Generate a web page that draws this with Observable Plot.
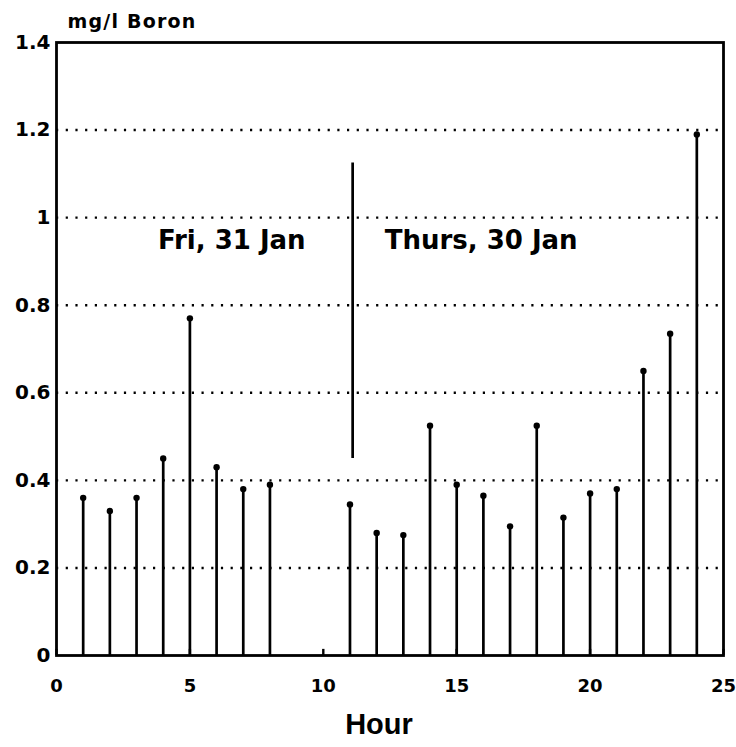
<!DOCTYPE html>
<html>
<head>
<meta charset="utf-8">
<script src="https://cdn.jsdelivr.net/npm/d3@7"></script>
<script src="https://cdn.jsdelivr.net/npm/@observablehq/plot@0.6"></script>
<style>
  html, body { margin: 0; padding: 0; background: #fff; }
  #chart svg { display: block; }
</style>
</head>
<body>
<div id="chart"></div>
<script>
// --- data ---
const hoursFri = [1, 2, 3, 4, 5, 6, 7, 8];
const boronFri = [0.36, 0.33, 0.36, 0.45, 0.77, 0.43, 0.38, 0.39];
const hoursThu = [11, 12, 13, 14, 15, 16, 17, 18, 19, 20, 21, 22, 23, 24];
const boronThu = [0.345, 0.28, 0.275, 0.525, 0.39, 0.365, 0.295, 0.525, 0.315, 0.37, 0.38, 0.65, 0.735, 1.19];
const separatorHour = [11.1];
const separatorFrom = [0.45];
const separatorTo = [1.125];
const dayLabels = ["Fri, 31 Jan", "Thurs, 30 Jan"];
const dayLabelHour = [3.8, 12.3];
const dayLabelValue = [0.948, 0.948];
const xTicks = [0, 5, 10, 15, 20, 25];
const yTicks = [0, 0.2, 0.4, 0.6, 0.8, 1, 1.2, 1.4];
const gridY = [0.2, 0.4, 0.6, 0.8, 1, 1.2];
const yTitle = "mg/l Boron";
const xTitle = "Hour";

const samples = [
  ...hoursFri.map((h, i) => ({hour: h, boron: boronFri[i]})),
  ...hoursThu.map((h, i) => ({hour: h, boron: boronThu[i]}))
];
const separator = separatorHour.map((h, i) => ({hour: h, y1: separatorFrom[i], y2: separatorTo[i]}));
const labels = dayLabels.map((t, i) => ({text: t, hour: dayLabelHour[i], value: dayLabelValue[i]}));

const font = "'DejaVu Sans', sans-serif";

const chart = Plot.plot({
  width: 736,
  height: 747,
  marginLeft: 56,
  marginRight: 13,
  marginTop: 42,
  marginBottom: 92,
  style: {fontFamily: font, fontWeight: "bold", background: "#fff", color: "#000"},
  x: {domain: [0, 25]},
  y: {domain: [0, 1.4]},
  marks: [
    Plot.ruleY(gridY, {stroke: "#000", strokeWidth: 2.4, strokeDasharray: "2.2,7.5"}),
    Plot.ruleX(xTicks, {x: d => d, y1: 0, y2: 0.014, stroke: "#000", strokeWidth: 2.4}),
    Plot.ruleX(samples, {x: "hour", y1: 0, y2: "boron", stroke: "#000", strokeWidth: 2.7}),
    Plot.dot(samples, {x: "hour", y: "boron", r: 3.2, fill: "#000", stroke: "none"}),
    Plot.ruleX(separator, {x: "hour", y1: "y1", y2: "y2", stroke: "#000", strokeWidth: 2.7}),
    Plot.text(labels, {x: "hour", y: "value", text: "text", textAnchor: "start", fontSize: 26, fontWeight: "bold", fontFamily: font, fill: "#000"}),
    Plot.frame({stroke: "#000", strokeWidth: 2.8}),
    Plot.axisY(yTicks, {tickSize: 0, tickPadding: 6, fontSize: 20, fontWeight: "bold", fontFamily: font, label: null, tickFormat: d => String(+d.toFixed(1))}),
    Plot.axisX(xTicks, {tickSize: 0, tickPadding: 24, fontSize: 18, fontWeight: "bold", fontFamily: font, label: null, tickFormat: d => String(d)}),
    Plot.text([yTitle], {frameAnchor: "top-left", text: d => d, dx: 11, dy: -21, textAnchor: "start", lineAnchor: "middle", fontSize: 19, fontWeight: "bold", fontFamily: font, fill: "#000"}),
    Plot.text([xTitle], {frameAnchor: "bottom", text: d => d, dx: -11, dy: 69, lineAnchor: "middle", fontSize: 29, fontWeight: "bold", fontFamily: "'Liberation Sans', Arial, sans-serif", fill: "#000"})
  ]
});
// slight letter spacing on the y title to match the wide scanned lettering
chart.querySelectorAll("text").forEach(t => {
  if (t.textContent === yTitle) t.setAttribute("letter-spacing", "1.2");
});
document.getElementById("chart").appendChild(chart);
</script>
</body>
</html>
